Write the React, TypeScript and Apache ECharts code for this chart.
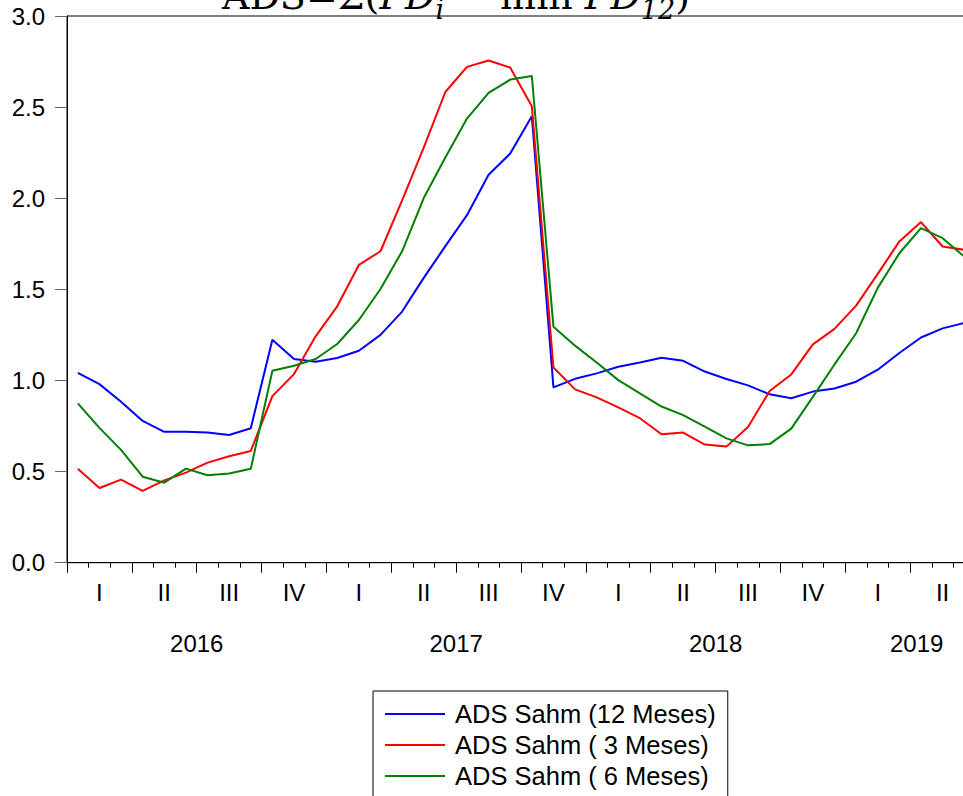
import React, { useEffect, useRef } from "react";
import * as echarts from "echarts";

// Monthly observations, Jan 2016 .. Jun 2019
const seriesNames = ["ADS Sahm (12 Meses)", "ADS Sahm ( 3 Meses)", "ADS Sahm ( 6 Meses)"];
const seriesColors = ["#0000FF", "#FF0000", "#008000"];

const ads12 = [
  1.042, 0.98, 0.883, 0.778, 0.718, 0.718, 0.714, 0.701, 0.738, 1.224, 1.118, 1.103,
  1.123, 1.163, 1.25, 1.378, 1.563, 1.737, 1.907, 2.129, 2.245, 2.45, 0.962, 1.009,
  1.039, 1.075, 1.099, 1.125, 1.108, 1.049, 1.008, 0.973, 0.924, 0.902, 0.939, 0.956,
  0.993, 1.059, 1.151, 1.236, 1.286, 1.316,
];
const ads3 = [
  0.516, 0.41, 0.456, 0.394, 0.452, 0.494, 0.549, 0.584, 0.613, 0.914, 1.035, 1.242,
  1.407, 1.634, 1.709, 1.988, 2.278, 2.583, 2.721, 2.756, 2.717, 2.505, 1.071, 0.951,
  0.907, 0.852, 0.793, 0.705, 0.714, 0.648, 0.637, 0.745, 0.942, 1.033, 1.198, 1.283,
  1.411, 1.585, 1.763, 1.869, 1.735, 1.717,
];
const ads6 = [
  0.874, 0.74, 0.619, 0.472, 0.439, 0.516, 0.48, 0.489, 0.515, 1.053, 1.081, 1.118,
  1.2, 1.332, 1.502, 1.709, 2.001, 2.223, 2.437, 2.578, 2.651, 2.671, 1.295, 1.191,
  1.099, 1.002, 0.929, 0.857, 0.81, 0.747, 0.682, 0.644, 0.651, 0.736, 0.91, 1.088,
  1.259, 1.508, 1.698, 1.836, 1.781, 1.68,
];

const quarterLabels = ["I", "II", "III", "IV"];
const yearLabels = ["2016", "2017", "2018", "2019"];
const axisMonths = 42.6; // extent of the time axis in months (axis runs past the cropped edge)

const FONT = "Liberation Sans";

export default function App() {
  const ref = useRef<HTMLDivElement>(null);

  useEffect(() => {
    if (!ref.current) return;
    const chart = echarts.init(ref.current, null, { renderer: "svg" });

    const monthTicks: number[] = [];
    for (let m = 0; m <= Math.floor(axisMonths); m++) monthTicks.push(m);
    const quarterTicks = monthTicks.filter((m) => m % 3 === 0);
    const quarterCenters: number[] = [];
    for (let q = 0; q * 3 + 3 <= Math.ceil(axisMonths); q++) quarterCenters.push(q * 3 + 1.5);
    const yearCenters = yearLabels.map((_, i) => {
      const a = i * 12;
      const b = Math.min((i + 1) * 12, axisMonths);
      return (a + b) / 2;
    });

    const allSeries = [ads12, ads3, ads6];

    const baseX = {
      type: "value" as const,
      min: 0,
      max: axisMonths,
      position: "bottom" as const,
      splitLine: { show: false },
      gridIndex: 0,
    };

    chart.setOption({
      animation: false,
      backgroundColor: "#ffffff",
      grid: {
        left: 67,
        top: 16,
        width: 921,
        height: 546.7,
        show: true,
        borderColor: "#000",
        borderWidth: 1,
        backgroundColor: "transparent",
      },
      legend: {
        orient: "vertical",
        left: 373,
        top: 691,
        icon: "rect",
        itemWidth: 60,
        itemHeight: 2,
        itemGap: 5,
        borderColor: "#000",
        borderWidth: 1,
        padding: [10, 12, 30, 12],
        data: seriesNames,
        textStyle: {
          fontFamily: FONT,
          fontSize: 25.5,
          lineHeight: 24,
          color: "#000",
          padding: [0, 0, 0, 5],
        },
      },
      xAxis: [
        {
          ...baseX,
          axisLine: { show: true, lineStyle: { color: "#000", width: 1 } },
          axisTick: { show: true, length: 5, customValues: monthTicks, lineStyle: { color: "#000" } },
          axisLabel: { show: false },
        },
        {
          ...baseX,
          axisLine: { show: false },
          axisTick: { show: true, length: 10, customValues: quarterTicks, lineStyle: { color: "#000" } },
          axisLabel: {
            show: true,
            customValues: quarterCenters,
            margin: 18,
            fontFamily: FONT,
            fontSize: 24,
            color: "#000",
            formatter: (v: number) => quarterLabels[Math.floor(v / 3) % 4],
          },
        },
        {
          ...baseX,
          axisLine: { show: false },
          axisTick: { show: false },
          axisLabel: {
            show: true,
            customValues: yearCenters,
            margin: 69,
            fontFamily: FONT,
            fontSize: 24,
            color: "#000",
            formatter: (v: number) => yearLabels[Math.floor(v / 12)],
          },
        },
      ],
      yAxis: {
        type: "value",
        min: 0,
        max: 3,
        interval: 0.5,
        splitLine: { show: false },
        axisLine: { show: true, lineStyle: { color: "#000", width: 1 } },
        axisTick: { show: true, length: 12, lineStyle: { color: "#666" } },
        axisLabel: {
          margin: 22,
          fontFamily: FONT,
          fontSize: 24,
          color: "#000",
          formatter: (v: number) => v.toFixed(1),
        },
      },
      graphic: [
        {
          type: "text",
          x: 456,
          y: 15,
          style: {
            text: "{a|ADS=Σ(}{i|PD}{s|i}{a| − min }{i|PD}{s|12}{a|)}",
            align: "center",
            verticalAlign: "bottom",
            rich: {
              a: { fontFamily: "DejaVu Serif", fontSize: 38, fill: "#000" },
              i: { fontFamily: "DejaVu Serif", fontStyle: "italic", fontSize: 38, fill: "#000" },
              s: {
                fontFamily: "DejaVu Serif",
                fontStyle: "italic",
                fontSize: 27,
                fill: "#000",
                verticalAlign: "bottom",
                padding: [0, 0, -8, 0],
              },
            },
          },
        },
      ],
      series: allSeries.map((vals, k) => ({
        name: seriesNames[k],
        type: "line",
        xAxisIndex: 0,
        symbol: "none",
        color: seriesColors[k],
        lineStyle: { color: seriesColors[k], width: 2 },
        data: vals.map((v, i) => [i + 0.5, v]),
      })),
    });

    return () => chart.dispose();
  }, []);

  return (
    <div
      style={{
        position: "fixed",
        left: 0,
        top: 0,
        width: 963,
        height: 796,
        overflow: "hidden",
        background: "#fff",
      }}
    >
      <div ref={ref} style={{ width: 1000, height: 860 }} />
    </div>
  );
}
